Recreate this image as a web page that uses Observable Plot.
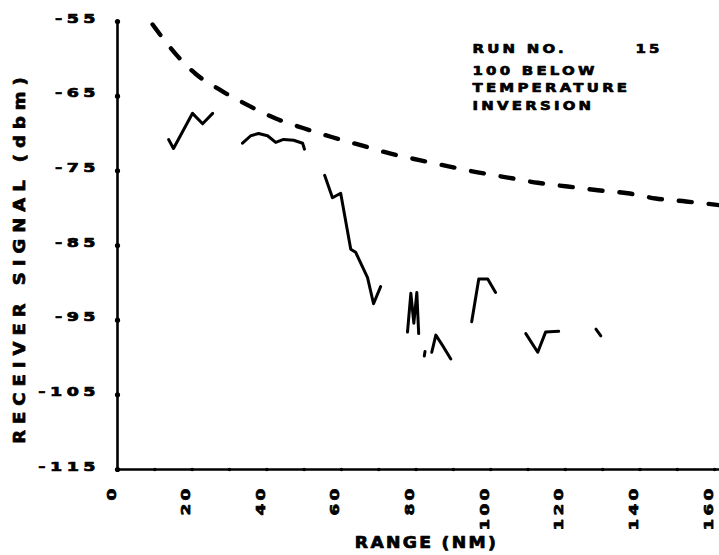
<!DOCTYPE html>
<html>
<head>
<meta charset="utf-8">
<script src="https://cdn.jsdelivr.net/npm/d3@7"></script>
<script src="https://cdn.jsdelivr.net/npm/@observablehq/plot@0.6"></script>
<style>
  html, body { margin: 0; padding: 0; background: #fff; }
</style>
</head>
<body>
<div id="chart"></div>
<script>
// Free-space reference curve (dashed): range in nautical miles, signal in dBm
const freeSpaceRange  = [9.4, 15.5, 20.9, 27.6, 34.9, 42.4, 49.9, 57.6, 65.4, 73.2, 81.2, 88.7, 96.5, 104.6, 112.6, 120.6, 128.7, 136.7, 144.2, 152.3, 161.3];
const freeSpaceSignal = [-55.4, -59.3, -62.0, -64.2, -66.2, -68.0, -69.3, -70.5, -71.6, -72.7, -73.6, -74.4, -75.2, -75.9, -76.6, -77.1, -77.6, -78.0, -78.7, -79.1, -79.6];

// Measured receiver signal, recorded in separate pieces along the run
const measuredRange = [
  [13.7, 15.0, 20.1, 22.8, 25.5],
  [33.5, 35.7, 37.8, 40.2, 42.4, 44.5, 47.2, 49.6, 50.1],
  [55.5, 57.6, 59.8, 62.5, 63.8, 67.0, 68.6, 70.5],
  [77.7, 78.6, 79.4, 80.2, 80.7],
  [82.2, 82.4],
  [84.2, 85.3, 87.1, 89.3],
  [94.9, 96.8, 99.2, 101.3],
  [109.4, 112.6, 114.7, 118.2],
  [128.2, 129.5]
];
const measuredSignal = [
  [-70.8, -72.0, -67.3, -68.7, -67.3],
  [-71.3, -70.3, -70.0, -70.3, -71.2, -70.8, -70.9, -71.3, -72.1],
  [-75.6, -78.6, -78.0, -85.5, -85.9, -89.3, -92.8, -90.5],
  [-96.6, -91.4, -95.4, -91.3, -96.8],
  [-99.8, -99.2],
  [-99.3, -97.0, -98.4, -100.2],
  [-95.2, -89.5, -89.5, -91.3],
  [-96.8, -99.3, -96.6, -96.5],
  [-96.2, -97.1]
];

// Axis ticks and labels
const yTicks = [-55, -65, -75, -85, -95, -105, -115];
const xTicks = [0, 20, 40, 60, 80, 100, 120, 140, 160];
const xMinorTicks = [0, 10, 20, 30, 40, 50, 60, 70, 80, 90, 100, 110, 120, 130, 140, 150, 160];
const yTitle = "RECEIVER SIGNAL (dbm)";
const xTitle = "RANGE (NM)";
const runLabel = "RUN NO.";
const runNumber = "15";
const conditionLines = ["100 BELOW", "TEMPERATURE", "INVERSION"];

// Tables built from the arrays above
const freeSpace = freeSpaceRange.map((r, i) => ({range: r, signal: freeSpaceSignal[i]}));
const measured = measuredRange.flatMap((rs, s) =>
  rs.map((r, i) => ({segment: s, range: r, signal: measuredSignal[s][i]})));

const font = "DejaVu Sans";
const ink = {fill: "#000", stroke: "#000", strokeWidth: 0.7, fontWeight: "bold", fontFamily: font};

const chart = Plot.plot({
  width: 719,
  height: 555,
  marginLeft: 117,
  marginRight: 0,
  marginTop: 21,
  marginBottom: 86,
  style: {background: "#fff", color: "#000", fontFamily: font},
  x: {domain: [0, 161.3], axis: null},
  y: {domain: [-115, -55], axis: null},
  marks: [
    // axes
    Plot.ruleX([0], {stroke: "#000", strokeWidth: 2.6}),
    Plot.ruleY([-115], {stroke: "#000", strokeWidth: 2.6}),
    Plot.dot(yTicks, {y: d => d, frameAnchor: "left", r: 2.6, fill: "#000", stroke: null}),
    Plot.dot(xMinorTicks, {x: d => d, frameAnchor: "bottom", r: 1.8, fill: "#000", stroke: null}),

    // tick labels
    Plot.text(yTicks, {
      ...ink, y: d => d, text: d => String(d), frameAnchor: "left", textAnchor: "end",
      dx: -17.5, dy: -3, fontSize: 12.5, ariaDescription: "ytick"
    }),
    Plot.text(xTicks, {
      ...ink, x: d => d, text: d => String(d), frameAnchor: "bottom", rotate: -90, textAnchor: "end",
      dx: -2, dy: 16, fontSize: 13, ariaDescription: "xtick"
    }),

    // axis titles
    Plot.text([yTitle], {
      ...ink, text: d => d, frameAnchor: "left", rotate: -90, textAnchor: "middle",
      dx: -97, dy: 12, fontSize: 15, ariaDescription: "ytitle"
    }),
    Plot.text([xTitle], {
      ...ink, text: d => d, frameAnchor: "bottom", textAnchor: "middle", lineAnchor: "top",
      dx: 8, dy: 68, fontSize: 15, ariaDescription: "xtitle"
    }),

    // run annotation
    Plot.text([runLabel], {
      ...ink, text: d => d, frameAnchor: "top-left", textAnchor: "start", lineAnchor: "top",
      dx: 355, dy: 22, fontSize: 13, ariaDescription: "note"
    }),
    Plot.text([runNumber], {
      ...ink, text: d => d, frameAnchor: "top-left", textAnchor: "start", lineAnchor: "top",
      dx: 518, dy: 22, fontSize: 13, ariaDescription: "note"
    }),
    Plot.text([conditionLines.join("\n")], {
      ...ink, text: d => d, frameAnchor: "top-left", textAnchor: "start", lineAnchor: "top",
      dx: 355, dy: 41, fontSize: 13, lineHeight: 1.35, ariaDescription: "note"
    }),

    // free-space curve
    Plot.line(freeSpace, {
      x: "range", y: "signal", curve: "monotone-x",
      stroke: "#000", strokeWidth: 4.4, strokeDasharray: "13,17", strokeLinecap: "round"
    }),

    // measured signal
    Plot.line(measured, {
      x: "range", y: "signal", z: "segment",
      stroke: "#000", strokeWidth: 3, strokeLinejoin: "round", strokeLinecap: "round"
    })
  ]
});

// wide plotter-style lettering: horizontal stretch plus letter spacing
const lettering = {
  ytick:  {sx: 1.4,  ls: 3.2},
  xtick:  {sx: 1.3,  ls: 2.5},
  ytitle: {sx: 1.2,  ls: 5},
  xtitle: {sx: 1.15, ls: 2},
  note:   {sx: 1.15, ls: 2.8}
};
d3.select(chart).selectAll("g[aria-description]").each(function () {
  const spec = lettering[this.getAttribute("aria-description")];
  if (!spec) return;
  d3.select(this).selectAll("text").each(function () {
    // fold a numeric x position into the transform so the stretch keeps the anchor in place;
    // the y attribute (line anchoring in em) is left untouched
    const xAttr = this.getAttribute("x");
    const x = xAttr !== null && !isNaN(+xAttr) ? +xAttr : 0;
    if (xAttr !== null && !isNaN(+xAttr)) this.removeAttribute("x");
    const t = this.getAttribute("transform") || "";
    this.setAttribute("transform", `${t} translate(${x},0) scale(${spec.sx},1)`);
    this.style.letterSpacing = spec.ls + "px";
  });
});

document.getElementById("chart").appendChild(chart);
</script>
</body>
</html>
